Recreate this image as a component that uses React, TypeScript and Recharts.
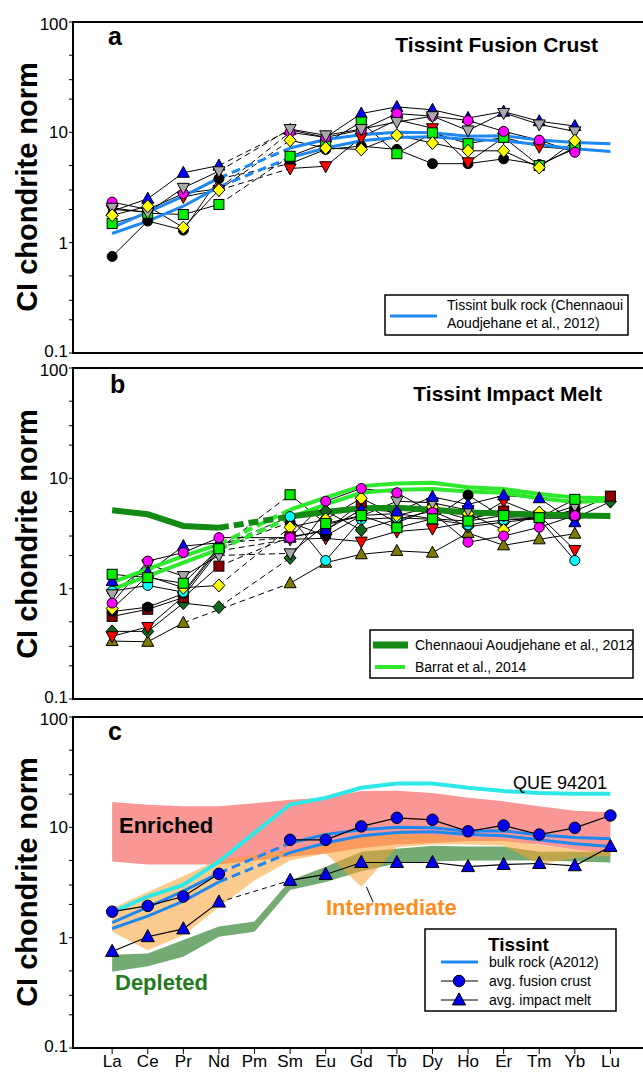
// @ts-nocheck
import React from "react";
import { ComposedChart, Line, Area, XAxis, YAxis, ReferenceArea } from "recharts";

type Vals = (number | null)[];

const ELEMENTS = ["La", "Ce", "Pr", "Nd", "Pm", "Sm", "Eu", "Gd", "Tb", "Dy", "Ho", "Er", "Tm", "Yb", "Lu"];
const X_TICKS = ELEMENTS.map((_, i) => i);
const Y_TICKS = [0.1, 0.2, 0.3, 0.5, 1, 2, 3, 5, 10, 20, 30, 50, 100];
const DECADES = [0.1, 1, 10, 100];

// Tissint bulk rock (Chennaoui Aoudjehane et al., 2012) - two analyses
const BULK_HI: Vals = [1.37, 1.89, 2.64, 3.85, null, 7.2, 8.6, 9.5, 10.0, 9.9, 9.2, 9.3, 8.5, 8.1, 7.9];
const BULK_LO: Vals = [1.21, 1.57, 2.14, 3.2, null, 5.9, 7.2, 8.4, 9.0, 9.1, 8.6, 8.4, 7.7, 7.1, 6.7];

// panel a: fusion crust analyses
const A_BLACK: Vals = [0.75, 1.57, 1.3, 3.8, null, 5.2, 7.0, 7.5, 7.0, 5.2, 5.2, 5.75, 5.1, 7.1, null];
const A_RED: Vals = [2.0, 1.9, 2.6, 3.0, null, 4.7, 4.93, 9.0, 13.0, 10.9, 5.35, 9.0, 7.4, 7.0, null];
const A_BLUE: Vals = [1.93, 2.5, 4.3, 5.0, null, 10.5, 9.0, 14.8, 17.0, 16.0, 13.5, 15.4, 12.6, 11.4, null];
const A_GREEN: Vals = [1.49, 1.85, 1.8, 2.22, null, 6.07, 8.0, 12.4, 6.4, 9.9, 7.9, 9.0, 5.0, 7.3, null];
const A_MAGENTA: Vals = [2.33, 2.0, 2.79, 3.08, null, 10.0, 9.0, 10.5, 14.8, 14.0, 12.8, 10.2, 8.5, 6.6, null];
const A_GRAY: Vals = [2.07, 1.87, 3.14, 4.44, null, 10.7, 9.4, 10.7, 12.4, 14.0, 10.4, 15.0, 11.8, 10.2, null];
const A_YELLOW: Vals = [1.77, 2.14, 1.37, 3.0, null, 8.47, 7.2, 7.0, 9.4, 8.0, 6.8, 6.8, 4.8, 8.4, null];

// panel b: impact melt analyses
const B_OLIVE: Vals = [0.335, 0.33, 0.49, null, null, 1.12, 1.72, 2.05, 2.2, 2.12, 3.2, 2.47, 2.8, 3.15, null];
const B_DKGREEN: Vals = [0.41, 0.41, 0.74, 0.68, null, 1.9, 5.05, 3.4, 4.25, 5.05, 3.65, 4.0, 4.35, 4.35, 6.15];
const B_RED: Vals = [0.37, 0.45, 0.85, 2.2, null, 2.8, 2.86, 2.67, 3.3, 3.5, 4.0, 6.2, 4.6, 2.24, null];
const B_DKRED: Vals = [0.56, 0.65, 0.83, 1.6, null, 2.96, 3.33, 6.0, 3.96, 5.3, 4.25, 5.05, 4.4, 5.05, 6.9];
const B_BLACK: Vals = [0.62, 0.68, 0.9, 2.3, null, 4.0, 3.0, 4.6, 4.8, 4.3, 7.05, 4.4, 4.3, 5.2, null];
const B_CYAN: Vals = [0.95, 1.07, 0.93, 2.4, null, 4.5, 1.8, 4.25, 4.4, 4.25, 3.8, 4.2, 4.3, 1.8, null];
const B_YELLOW: Vals = [0.66, 1.3, 1.02, 1.07, null, 3.6, 4.25, 6.6, 4.6, 5.5, 4.8, 3.4, 4.9, 4.6, null];
const B_GRAY: Vals = [0.89, 1.66, 1.3, 2.0, null, 2.09, 3.8, 4.55, 6.2, 6.0, 5.15, 4.6, 4.4, 5.6, null];
const B_BLUE: Vals = [1.17, 1.4, 2.43, 2.6, null, 2.9, 3.4, 5.2, 5.0, 6.8, 5.8, 7.0, 6.6, 4.0, null];
const B_MAGENTA: Vals = [0.74, 1.78, 2.12, 2.9, null, 2.9, 6.2, 8.1, 7.4, 4.9, 2.64, 3.0, 3.6, 4.6, null];
const B_GREEN: Vals = [1.35, 1.26, 1.12, 2.3, null, 7.1, 3.9, 4.6, 3.57, 4.3, 4.1, 4.6, 4.4, 6.45, null];

// panel b: literature bulk rock
const CHENNAOUI: Vals = [5.13, 4.72, 3.7, 3.57, null, 4.5, 4.95, 5.35, 5.4, 5.2, 4.9, 4.8, 4.7, 4.6, 4.55];
const BARRAT_1: Vals = [1.14, 1.5, 1.97, 2.52, null, 5.2, 6.7, 8.5, 9.0, 9.1, 8.3, 8.0, 7.2, 6.7, 6.6];
const BARRAT_2: Vals = [0.99, 1.3, 1.72, 2.27, null, 4.4, 5.8, 7.4, 7.9, 8.0, 7.6, 7.4, 6.6, 6.1, 6.3];

// panel c: shergottite fields and averages
const ENR_LO = [4.9, 4.6, 4.6, 4.6, 5.0, 5.4, 5.8, 6.5, 7.0, 7.2, 7.5, 7.5, 7.0, 6.3, 5.8];
const ENR_HI = [17, 16, 15.5, 15.5, 16.5, 17.8, 18.5, 21.3, 21.5, 20.5, 18.5, 17.2, 15.5, 14.1, 13.7];
const INT_LO = [1.13, 0.77, 1.05, 1.9, 3.3, 5.0, 5.8, 2.9, 6.6, 7.0, 7.0, 6.8, 4.6, 5.3, 5.5];
const INT_HI = [1.85, 2.6, 3.6, 5.1, 5.6, 6.2, 7.2, 8.2, 8.8, 8.6, 8.0, 7.8, 6.9, 6.3, 6.0];
const DEP_LO = [0.49, 0.55, 0.67, 1.02, 1.13, 2.7, 3.2, 4.0, 4.7, 4.9, 5.0, 5.0, 5.0, 4.9, 4.8];
const DEP_HI = [0.7, 0.72, 0.95, 1.26, 1.4, 3.3, 4.4, 6.0, 6.4, 6.8, 6.7, 6.7, 6.0, 6.0, 6.0];
const QUE_94201 = [1.7, 2.36, 3.0, 4.9, 8.9, 16.1, 18.5, 22.8, 24.9, 24.9, 22.8, 21.3, 20.5, 20.2, 20.2];
const AVG_FUSION: Vals = [1.72, 1.94, 2.36, 3.79, null, 7.7, 7.7, 10.2, 12.2, 11.7, 9.2, 10.4, 8.6, 9.9, 12.8];
const AVG_MELT: Vals = [0.75, 1.02, 1.2, 2.1, null, 3.3, 3.74, 4.8, 4.8, 4.8, 4.4, 4.6, 4.7, 4.48, 6.7];

const FONT = "'Liberation Sans', Arial, Helvetica, sans-serif";
const BLUE = "#1e88f0";
const W = 660;
const PLOT_H = 331;

const A_SAMPLES = [
  { key: "blk", vals: A_BLACK, shape: "circle", fill: "#000000" },
  { key: "red", vals: A_RED, shape: "down", fill: "#ff0000" },
  { key: "blu", vals: A_BLUE, shape: "up", fill: "#0000ff" },
  { key: "grn", vals: A_GREEN, shape: "square", fill: "#00ee00" },
  { key: "mag", vals: A_MAGENTA, shape: "circle", fill: "#ff00ff" },
  { key: "gry", vals: A_GRAY, shape: "down", fill: "#a8a8a8" },
  { key: "yel", vals: A_YELLOW, shape: "diamond", fill: "#ffff00" },
];

const B_SAMPLES = [
  { key: "olv", vals: B_OLIVE, shape: "up", fill: "#7f7a00" },
  { key: "dgn", vals: B_DKGREEN, shape: "diamond", fill: "#11661a" },
  { key: "red", vals: B_RED, shape: "down", fill: "#ff0000" },
  { key: "drd", vals: B_DKRED, shape: "square", fill: "#8b0000" },
  { key: "blk", vals: B_BLACK, shape: "circle", fill: "#000000" },
  { key: "cyn", vals: B_CYAN, shape: "circle", fill: "#00ffff" },
  { key: "yel", vals: B_YELLOW, shape: "diamond", fill: "#ffff00" },
  { key: "gry", vals: B_GRAY, shape: "down", fill: "#a8a8a8" },
  { key: "blu", vals: B_BLUE, shape: "up", fill: "#0000ff" },
  { key: "mag", vals: B_MAGENTA, shape: "circle", fill: "#ff00ff", solidBridge: true },
  { key: "grn", vals: B_GREEN, shape: "square", fill: "#00ee00" },
];

// endpoints of a gap (e.g. missing Pm) so it can be bridged by its own line
function bridge(v: Vals): Vals {
  const out: Vals = v.map(() => null);
  for (let i = 1; i < v.length; i++) {
    if (v[i] != null && v[i - 1] == null) {
      let j = i - 1;
      while (j >= 0 && v[j] == null) j--;
      if (j >= 0) {
        out[j] = v[j];
        out[i] = v[i];
      }
    }
  }
  return out;
}

function buildRows(series: Record<string, Vals>, ranges: Record<string, [number[], number[]]> = {}) {
  const br: Record<string, Vals> = {};
  Object.keys(series).forEach((k) => (br[k] = bridge(series[k])));
  return ELEMENTS.map((el, i) => {
    const row: any = { x: i, el };
    Object.keys(series).forEach((k) => {
      row[k] = series[k][i];
      row[k + "_br"] = br[k][i];
    });
    Object.keys(ranges).forEach((k) => {
      row[k] = [ranges[k][0][i], ranges[k][1][i]];
    });
    return row;
  });
}

function Marker({ shape, fill, cx, cy, s = 1 }) {
  const st = { fill, stroke: "#000", strokeWidth: 1 };
  if (shape === "circle") return <circle cx={cx} cy={cy} r={5 * s} {...st} />;
  if (shape === "square") return <rect x={cx - 5 * s} y={cy - 5 * s} width={10 * s} height={10 * s} {...st} />;
  if (shape === "up")
    return <polygon points={`${cx},${cy - 6.5 * s} ${cx - 6 * s},${cy + 4.5 * s} ${cx + 6 * s},${cy + 4.5 * s}`} {...st} />;
  if (shape === "down")
    return <polygon points={`${cx},${cy + 6.5 * s} ${cx - 6 * s},${cy - 4.5 * s} ${cx + 6 * s},${cy - 4.5 * s}`} {...st} />;
  return <polygon points={`${cx},${cy - 6.5 * s} ${cx + 6 * s},${cy} ${cx},${cy + 6.5 * s} ${cx - 6 * s},${cy}`} {...st} />;
}

function markerDot(shape: string, fill: string, s = 1) {
  return (p: any) => {
    if (p.cx == null || p.cy == null || p.value == null) return <g key={`n${p.index}`} />;
    return <Marker key={`m${p.index}`} shape={shape} fill={fill} cx={p.cx} cy={p.cy} s={s} />;
  };
}

// decade labels only; top/bottom labels nudged so neighbouring panels don't collide
function YTick(p: any) {
  const v = p.payload?.value;
  if (!DECADES.includes(v)) return <g />;
  const dy = v === 100 ? 2 : v === 0.1 ? -2 : 0;
  return (
    <text x={p.x} y={p.y + dy} dy="0.355em" textAnchor="end" fontSize={17} fill="#000" fontFamily={FONT}>
      {String(v)}
    </text>
  );
}

function axes(labels: boolean) {
  return [
    <XAxis
      key="x"
      type="number"
      dataKey="x"
      domain={[-1.1, 15]}
      ticks={X_TICKS}
      interval={0}
      allowDataOverflow
      height={labels ? 25 : 10}
      tickSize={6}
      tickMargin={1}
      axisLine={{ stroke: "#000", strokeWidth: 2 }}
      tickLine={{ stroke: "#000" }}
      tick={labels ? { fontSize: 17, fill: "#000", fontFamily: FONT } : false}
      tickFormatter={(i) => ELEMENTS[i] ?? ""}
    />,
    <YAxis
      key="y"
      type="number"
      scale="log"
      domain={[0.1, 100]}
      ticks={Y_TICKS}
      interval={0}
      allowDataOverflow
      width={40}
      tickSize={4}
      tickMargin={1}
      axisLine={{ stroke: "#000", strokeWidth: 2 }}
      tickLine={{ stroke: "#000" }}
      tick={<YTick />}
    />,
    <YAxis
      key="yr"
      yAxisId="r"
      orientation="right"
      mirror
      type="number"
      scale="log"
      domain={[0.1, 100]}
      ticks={Y_TICKS}
      interval={0}
      width={1}
      tickSize={4}
      axisLine={false}
      tickLine={{ stroke: "#000" }}
      tick={false}
    />,
  ];
}

function frame() {
  return (
    <ReferenceArea
      key="frame"
      x1={-1.1}
      x2={15}
      y1={0.1}
      y2={100}
      fill="none"
      fillOpacity={0}
      stroke="#000"
      strokeWidth={2}
      ifOverflow="visible"
    />
  );
}

function sampleLines(samples: any[]) {
  const out: any[] = [];
  samples.forEach((s) => {
    out.push(
      <Line key={s.key} dataKey={s.key} stroke="#000" strokeWidth={1} dot={false} activeDot={false} isAnimationActive={false} />,
      <Line
        key={s.key + "_br"}
        dataKey={s.key + "_br"}
        stroke="#000"
        strokeWidth={1}
        strokeDasharray={s.solidBridge ? undefined : "6 4"}
        connectNulls
        dot={false}
        activeDot={false}
        isAnimationActive={false}
      />
    );
  });
  return out;
}

function sampleMarkers(samples: any[]) {
  return samples.map((s) => (
    <Line
      key={s.key + "_m"}
      dataKey={s.key}
      stroke="none"
      dot={markerDot(s.shape, s.fill)}
      activeDot={false}
      isAnimationActive={false}
    />
  ));
}

function refLine(key: string, color: string, width: number, dash: string) {
  return [
    <Line key={key} dataKey={key} stroke={color} strokeWidth={width} dot={false} activeDot={false} isAnimationActive={false} />,
    <Line
      key={key + "_br"}
      dataKey={key + "_br"}
      stroke={color}
      strokeWidth={width}
      strokeDasharray={dash}
      connectNulls
      dot={false}
      activeDot={false}
      isAnimationActive={false}
    />,
  ];
}

const seriesOf = (list: any[]) => Object.fromEntries(list.map((s) => [s.key, s.vals]));

export default function App() {
  const rowsA = buildRows({ ...seriesOf(A_SAMPLES), bulkHi: BULK_HI, bulkLo: BULK_LO });
  const rowsB = buildRows({ ...seriesOf(B_SAMPLES), chen: CHENNAOUI, bar1: BARRAT_1, bar2: BARRAT_2 });
  const rowsC = buildRows(
    { que: QUE_94201, bulkHi: BULK_HI, bulkLo: BULK_LO, fus: AVG_FUSION, melt: AVG_MELT },
    { enr: [ENR_LO, ENR_HI], int: [INT_LO, INT_HI], dep: [DEP_LO, DEP_HI] }
  );
  const margin = (top: number) => ({ top, right: 14, bottom: 0, left: 33 });

  return (
    <div style={{ position: "absolute", left: 0, top: 0, width: 643, height: 1073, overflow: "hidden", background: "#fff" }}>
      <div style={{ position: "absolute", left: 0, top: 0 }}>
        <ComposedChart width={W} height={22 + PLOT_H + 10} data={rowsA} margin={margin(22)}>
          {axes(false)}
          {sampleLines(A_SAMPLES)}
          {refLine("bulkHi", BLUE, 3, "9 5")}
          {refLine("bulkLo", BLUE, 3, "9 5")}
          {sampleMarkers(A_SAMPLES)}
          {frame()}
        </ComposedChart>
      </div>

      <div style={{ position: "absolute", left: 0, top: 350 }}>
        <ComposedChart width={W} height={18 + PLOT_H + 10} data={rowsB} margin={margin(18)}>
          {axes(false)}
          {sampleLines(B_SAMPLES)}
          {refLine("bar1", "#2ee82e", 4, "9 5")}
          {refLine("bar2", "#2ee82e", 4, "9 5")}
          {refLine("chen", "#138a13", 6, "10 5")}
          {sampleMarkers(B_SAMPLES)}
          {frame()}
        </ComposedChart>
      </div>

      <div style={{ position: "absolute", left: 0, top: 700 }}>
        <ComposedChart width={W} height={17 + PLOT_H + 25} data={rowsC} margin={margin(17)}>
          {axes(true)}
          <Area dataKey="enr" type="linear" stroke="none" fill="#f99696" fillOpacity={1} dot={false} activeDot={false} isAnimationActive={false} />
          <Area dataKey="dep" type="linear" stroke="none" fill="#74ab74" fillOpacity={1} dot={false} activeDot={false} isAnimationActive={false} />
          <Area dataKey="int" type="linear" stroke="none" fill="#fba030" fillOpacity={0.55} dot={false} activeDot={false} isAnimationActive={false} />
          <Line dataKey="que" stroke="#2ee8e8" strokeWidth={4} dot={false} activeDot={false} isAnimationActive={false} />
          {refLine("bulkHi", BLUE, 3, "9 5")}
          {refLine("bulkLo", BLUE, 3, "9 5")}
          <Line dataKey="fus" stroke="#000" strokeWidth={1.2} dot={markerDot("circle", "#0000ee", 1.15)} activeDot={false} isAnimationActive={false} />
          <Line dataKey="melt_br" stroke="#000" strokeWidth={1} strokeDasharray="5 4" connectNulls dot={false} activeDot={false} isAnimationActive={false} />
          <Line dataKey="melt" stroke="#000" strokeWidth={1.2} dot={markerDot("up", "#0000ee", 1.1)} activeDot={false} isAnimationActive={false} />
          {frame()}
        </ComposedChart>
      </div>

      <svg width={643} height={1073} style={{ position: "absolute", left: 0, top: 0, pointerEvents: "none" }} fontFamily={FONT}>
        {[187, 534, 882].map((cy) => (
          <text key={cy} transform={`translate(37, ${cy}) rotate(-90)`} textAnchor="middle" fontSize={29} fontWeight="bold">
            CI chondrite norm
          </text>
        ))}
        <text x={108} y={45} fontSize={25} fontWeight="bold">a</text>
        <text x={110} y={393} fontSize={25} fontWeight="bold">b</text>
        <text x={108} y={740} fontSize={25} fontWeight="bold">c</text>
        <text x={598} y={51.5} fontSize={21} fontWeight="bold" textAnchor="end">Tissint Fusion Crust</text>
        <text x={602} y={401} fontSize={21} fontWeight="bold" textAnchor="end">Tissint Impact Melt</text>

        {/* legend a */}
        <rect x={385} y={295} width={243} height={40} fill="#fff" stroke="#000" strokeWidth={1.5} />
        <line x1={390} x2={437} y1={316} y2={316} stroke={BLUE} strokeWidth={3} />
        <text x={447} y={310} fontSize={14}>Tissint bulk rock (Chennaoui</text>
        <text x={447} y={328} fontSize={14}>Aoudjehane et al., 2012)</text>

        {/* legend b */}
        <rect x={370} y={630} width={263} height={48} fill="#fff" stroke="#000" strokeWidth={1.5} />
        <line x1={373} x2={408} y1={645} y2={645} stroke="#138a13" strokeWidth={7} />
        <line x1={375} x2={405} y1={667} y2={667} stroke="#2ee82e" strokeWidth={4} />
        <text x={415} y={650} fontSize={14}>Chennaoui Aoudjehane et al., 2012</text>
        <text x={415} y={672} fontSize={14}>Barrat et al., 2014</text>

        {/* panel c annotations */}
        <text x={513} y={789} fontSize={18}>QUE 94201</text>
        <text x={119} y={833} fontSize={22} fontWeight="bold">Enriched</text>
        <text x={115} y={990} fontSize={22} fontWeight="bold" fill="#237a1f">Depleted</text>
        <text x={326} y={915} fontSize={22} fontWeight="bold" fill="#ff8c1a">Intermediate</text>
        <line x1={366.5} y1={887} x2={373} y2={902} stroke="#000" strokeWidth={1} />

        {/* legend c */}
        <rect x={425} y={929} width={191} height={82} fill="#fff" stroke="#000" strokeWidth={1.5} />
        <text x={488} y={951} fontSize={19} fontWeight="bold">Tissint</text>
        <line x1={441} x2={478} y1={962} y2={962} stroke={BLUE} strokeWidth={3} />
        <text x={489} y={967} fontSize={14}>bulk rock (A2012)</text>
        <line x1={441} x2={478} y1={981} y2={981} stroke="#000" strokeWidth={1} />
        <Marker shape="circle" fill="#0000ee" cx={459} cy={981} s={1.15} />
        <text x={489} y={986} fontSize={14}>avg. fusion crust</text>
        <line x1={441} x2={478} y1={1000} y2={1000} stroke="#000" strokeWidth={1} />
        <Marker shape="up" fill="#0000ee" cx={459} cy={1000} s={1.1} />
        <text x={489} y={1005} fontSize={14}>avg. impact melt</text>
      </svg>
    </div>
  );
}
